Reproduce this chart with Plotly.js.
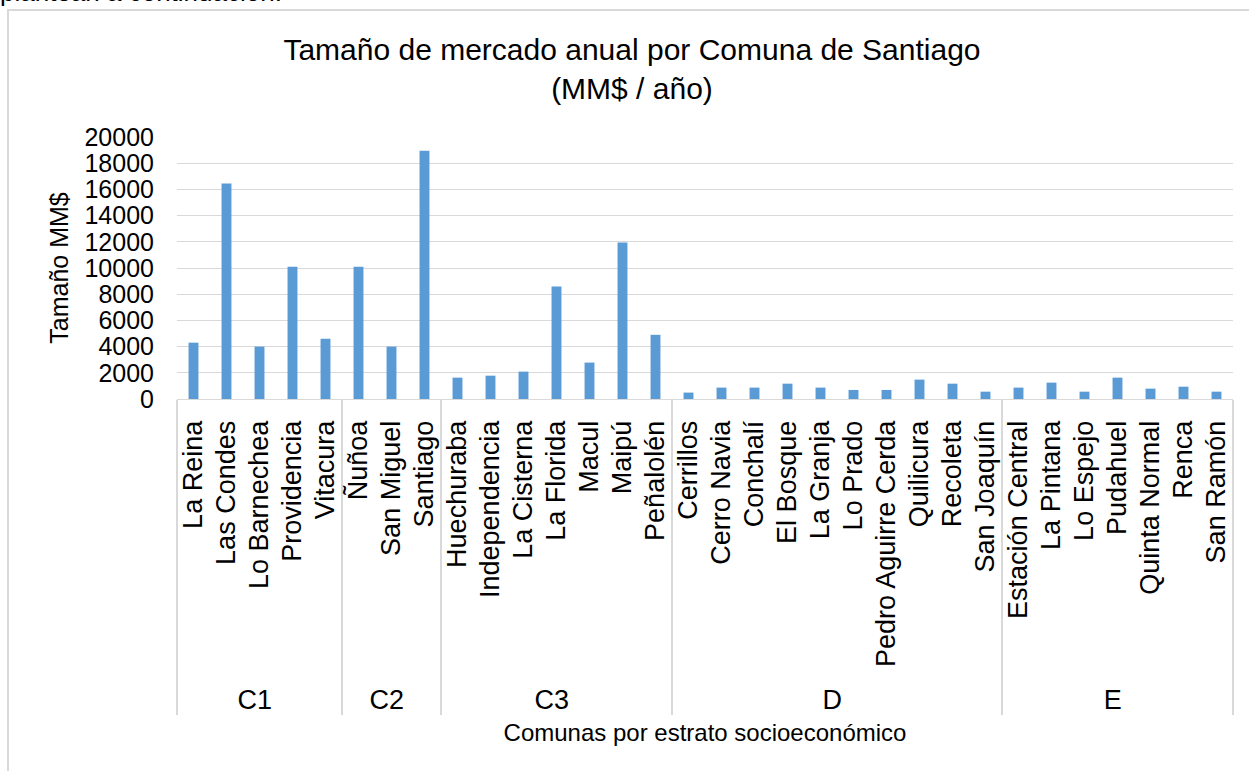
<!DOCTYPE html>
<html>
<head>
<meta charset="utf-8">
<script src="https://cdn.plot.ly/plotly-3.0.1.min.js"></script>
<style>
  html, body { margin: 0; padding: 0; background: #fff; overflow: hidden; }
  #chart { width: 1249px; height: 771px; }
  #frame { position: absolute; left: 7px; top: 9px; width: 1260px; height: 800px;
           border-left: 2px solid #d9d9d9; border-top: 2px solid #d9d9d9; pointer-events: none; }
  #above { position: absolute; left: 0px; top: -21px; font-family: "Liberation Sans", Arial, sans-serif;
           font-size: 26px; line-height: 26px; color: #000; white-space: nowrap; }
</style>
</head>
<body>
<div id="chart"></div>
<div id="above">plantean a continuación.</div>
<div id="frame"></div>
<script>
const estratos = [
  "C1","C1","C1","C1","C1",
  "C2","C2","C2",
  "C3","C3","C3","C3","C3","C3","C3",
  "D","D","D","D","D","D","D","D","D","D",
  "E","E","E","E","E","E","E"
];
const comunas = [
  "La Reina","Las Condes","Lo Barnechea","Providencia","Vitacura",
  "Ñuñoa","San Miguel","Santiago",
  "Huechuraba","Independencia","La Cisterna","La Florida","Macul","Maipú","Peñalolén",
  "Cerrillos","Cerro Navia","Conchalí","El Bosque","La Granja","Lo Prado","Pedro Aguirre Cerda","Quilicura","Recoleta","San Joaquín",
  "Estación Central","La Pintana","Lo Espejo","Pudahuel","Quinta Normal","Renca","San Ramón"
];
const tamanoMM = [
  4300, 16450, 4000, 10100, 4600,
  10100, 4000, 18950,
  1630, 1780, 2090, 8580, 2780, 11950, 4900,
  490, 870, 870, 1170, 870, 690, 690, 1480, 1170, 560,
  870, 1250, 560, 1630, 790, 940, 560
];
const yTicks = [0,2000,4000,6000,8000,10000,12000,14000,16000,18000,20000];

const FONT = '"Liberation Sans", Arial, sans-serif';

const trace = {
  type: 'bar',
  x: [estratos, comunas],
  y: tamanoMM,
  marker: { color: '#5b9bd5' },
  hoverinfo: 'x+y'
};

const layout = {
  width: 1249,
  height: 771,
  paper_bgcolor: '#ffffff',
  plot_bgcolor: '#ffffff',
  font: { family: FONT, color: '#000000', size: 24 },
  margin: { l: 177, r: 16, t: 137, b: 372, autoexpand: false },
  bargap: 0.7,
  showlegend: false,
  title: {
    text: 'Tamaño de mercado anual por Comuna de Santiago<br>(MM$ / año)',
    font: { family: FONT, size: 30, color: '#000' },
    x: 0.506, xref: 'container', xanchor: 'center',
    y: 0.922, yref: 'container', yanchor: 'top'
  },
  xaxis: {
    type: 'multicategory',
    tickangle: -90,
    tickfont: { family: FONT, size: 27, color: '#000' },
    ticklabelstandoff: 10,
    showline: true, linecolor: '#d9d9d9', linewidth: 1,
    showgrid: false,
    ticks: '',
    showdividers: true, dividercolor: '#d9d9d9', dividerwidth: 2,
    title: { text: 'Comunas por estrato socioeconómico', font: { family: FONT, size: 24, color: '#000' }, standoff: 10 },
    automargin: false
  },
  yaxis: {
    range: [0, 20000],
    tickvals: yTicks,
    ticktext: yTicks.map(String),
    tickfont: { family: FONT, size: 25, color: '#000' },
    showgrid: true, gridcolor: '#d9d9d9', gridwidth: 1,
    zeroline: false,
    showline: false,
    ticks: '',
    ticklabelstandoff: 22,
    title: { text: 'Tamaño MM$', font: { family: FONT, size: 25, color: '#000' }, standoff: 8 },
    automargin: false
  }
};

Plotly.newPlot('chart', [trace], layout, { displayModeBar: false, staticPlot: true });
</script>
</body>
</html>
